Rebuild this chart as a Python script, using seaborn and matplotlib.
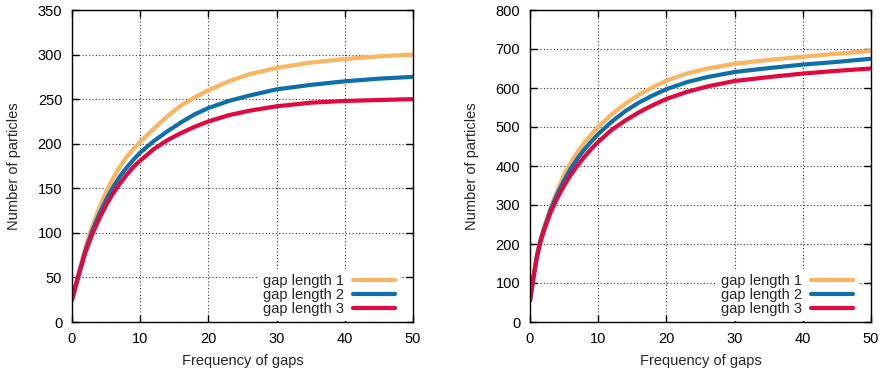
import matplotlib
matplotlib.use("Agg")
import matplotlib.pyplot as plt
import seaborn as sns
import pandas as pd

# left panel
x_left = [0, 1, 2, 3, 4, 5, 6, 7, 8, 9, 10, 12, 14, 16, 18, 20, 23, 26, 30, 35, 40, 45, 50]
gap1_left = [25, 55, 85, 108, 128, 146, 161, 174, 185, 194, 202, 217, 231, 243, 252, 260, 270, 278, 285, 291, 295, 298, 300]
gap2_left = [25, 54, 81, 103, 121, 137, 151, 163, 173, 182, 190, 203, 214, 224, 233, 240, 248, 254, 261, 266, 270, 273, 275]
gap3_left = [25, 53, 79, 99, 116, 131, 144, 155, 165, 174, 181, 194, 204, 212, 219, 225, 232, 237, 242, 246, 248, 249, 250]

# right panel
x_right = [0, 0.5, 1, 1.5, 2, 3, 4, 5, 6, 7, 8, 9, 10, 12, 14, 16, 18, 20, 23, 26, 30, 35, 40, 45, 50]
gap1_right = [55, 115, 170, 210, 240, 292, 337, 378, 410, 437, 460, 481, 500, 533, 560, 583, 602, 619, 637, 650, 662, 672, 680, 688, 695]
gap2_right = [55, 115, 168, 207, 236, 287, 328, 363, 394, 420, 443, 463, 482, 514, 541, 563, 581, 597, 615, 628, 641, 651, 660, 667, 675]
gap3_right = [55, 113, 165, 203, 232, 280, 318, 350, 378, 402, 424, 444, 462, 493, 517, 538, 556, 572, 590, 604, 618, 628, 637, 644, 650]

labels = ["gap length 1", "gap length 2", "gap length 3"]
colors = ["#FBB45F", "#0E6FAD", "#E5063F"]

sns.set_style("ticks")
plt.rcParams["font.family"] = ["Liberation Sans", "DejaVu Sans"]
fs = 10.5

fig = plt.figure(figsize=(8.84, 3.72), dpi=100)
ax_l = fig.add_axes([72 / 884, 50 / 372, 341 / 884, 312 / 372])
ax_r = fig.add_axes([530 / 884, 50 / 372, 341 / 884, 312 / 372])


def draw(ax, x, series, ymax, ystep):
    for lab, ys, c in zip(labels, series, colors):
        df = pd.DataFrame({"x": x, "y": ys})
        sns.lineplot(data=df, x="x", y="y", ax=ax, color=c, linewidth=3, label=lab)
    ax.set_xlim(0, 50)
    ax.set_ylim(0, ymax)
    ax.set_xticks(range(0, 51, 10))
    ax.set_yticks(range(0, ymax + 1, ystep))
    ax.grid(True, color="#333333", linestyle=(0, (1, 2)), linewidth=0.8)
    ax.tick_params(direction="in", length=5, width=1, top=True, right=True,
                   pad=7, labelsize=fs, colors="black")
    for s in ax.spines.values():
        s.set_visible(True)
        s.set_linewidth(1)
        s.set_color("black")
    ax.set_xlabel("Frequency of gaps", fontsize=fs, labelpad=6)
    ax.set_ylabel("Number of particles", fontsize=fs, labelpad=12)
    leg = ax.legend(loc="lower right", bbox_to_anchor=(1 - 13 / 341, 1 / 312),
                    markerfirst=False, frameon=True,
                    fancybox=False, framealpha=1, edgecolor="white",
                    fontsize=fs, handlelength=2.9, labelspacing=0.0,
                    borderpad=0.35, borderaxespad=0, handletextpad=0.6)
    leg.get_frame().set_linewidth(0)


draw(ax_l, x_left, [gap1_left, gap2_left, gap3_left], 350, 50)
draw(ax_r, x_right, [gap1_right, gap2_right, gap3_right], 800, 100)

plt.savefig("out.png", dpi=100)
